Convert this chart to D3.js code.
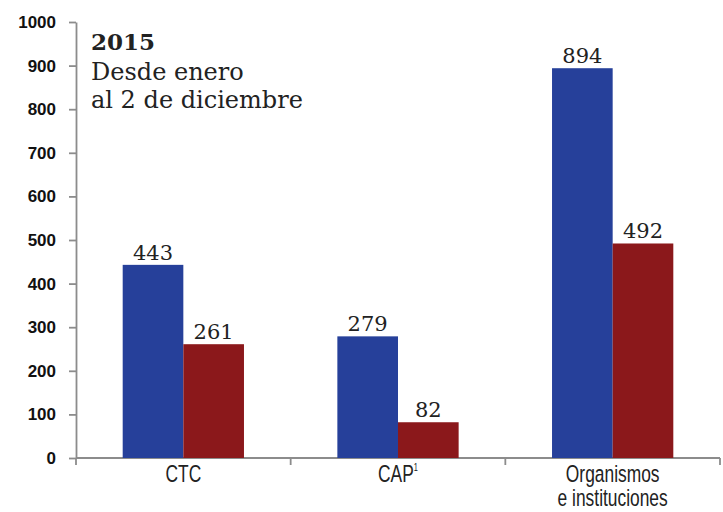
<!DOCTYPE html>
<html>
<head>
<meta charset="utf-8">
<title>2015</title>
<script src="https://cdn.jsdelivr.net/npm/d3@7"></script>
<style>
    body { margin: 0; background: #fff; }
    .axis path, .axis line { stroke: #8c8c8c; stroke-width: 1.8; }
    .y.axis text { font-family: "Liberation Sans", Arial, sans-serif; font-weight: bold; font-size: 17px; fill: #111; }
    .x.axis text { font-family: "Liberation Sans", Arial, sans-serif; font-size: 23.5px; fill: #222; }
    .value { font-family: "DejaVu Serif", "Liberation Serif", serif; font-size: 21px; fill: #222; }
    .title { font-family: "DejaVu Serif", "Liberation Serif", serif; fill: #222; }
</style>
</head>
<body>
<script>
var categories = ["CTC", "CAP", "Organismos"];
var catLines = [["CTC"], ["CAP"], ["Organismos", "e instituciones"]];
var series = ["a", "b"];
var valuesA = [443, 279, 894];
var valuesB = [261, 82, 492];
var yTicks = [0, 100, 200, 300, 400, 500, 600, 700, 800, 900, 1000];
var colors = ["#26409a", "#8b181b"];

var width = 723, height = 512,
    margins = {top: 22, left: 76, right: 3, bottom: 54};

var svg = d3.select("body").append("svg")
    .attr("width", width)
    .attr("height", height);

var x = d3.scaleBand()
    .domain(categories)
    .range([margins.left, width - margins.right])
    .padding(0);

var xInner = d3.scaleBand()
    .domain(series)
    .range([0, x.bandwidth()])
    .paddingInner(0)
    .paddingOuter(0.77);

var y = d3.scaleLinear()
    .domain([0, 1000])
    .range([height - margins.bottom, margins.top]);

// y axis
svg.append("g")
    .attr("class", "y axis")
    .attr("transform", "translate(" + margins.left + ",0)")
    .call(d3.axisLeft(y).tickValues(yTicks).tickFormat(d3.format("d"))
        .tickSize(7).tickSizeOuter(0).tickPadding(13));

// x axis with ticks at band boundaries
var xAxisG = svg.append("g")
    .attr("class", "x axis")
    .attr("transform", "translate(0," + y(0) + ")");
xAxisG.append("line")
    .attr("x1", margins.left).attr("x2", width - margins.right);
var bounds = categories.map(function (c) { return x(c); }).concat([x(categories[2]) + x.bandwidth()]);
xAxisG.selectAll("line.tick")
    .data(bounds)
    .enter().append("line")
    .attr("class", "tick")
    .attr("x1", function (d) { return d; })
    .attr("x2", function (d) { return d; })
    .attr("y1", 0).attr("y2", 7);

// condensed category labels
categories.forEach(function (c, i) {
    var cx = x(c) + x.bandwidth() / 2;
    catLines[i].forEach(function (line, j) {
        var t = xAxisG.append("text")
            .attr("text-anchor", "middle")
            .attr("transform", "translate(" + cx + "," + (24 + j * 24) + ") scale(0.74,1)")
            .text(line);
        if (c === "CAP") {
            t.append("tspan")
                .attr("font-size", "10px")
                .attr("dy", -11)
                .text("1");
        }
    });
});

// bars
var data = categories.map(function (c, i) {
    return {cat: c, vals: [{k: "a", v: valuesA[i]}, {k: "b", v: valuesB[i]}]};
});

var groups = svg.selectAll("g.group")
    .data(data)
    .enter().append("g")
    .attr("class", "group")
    .attr("transform", function (d) { return "translate(" + x(d.cat) + ",0)"; });

groups.selectAll("rect")
    .data(function (d) { return d.vals; })
    .enter().append("rect")
    .attr("x", function (d) { return xInner(d.k); })
    .attr("width", xInner.bandwidth())
    .attr("y", function (d) { return y(d.v); })
    .attr("height", function (d) { return y(0) - y(d.v); })
    .style("fill", function (d, i) { return colors[i]; });

groups.selectAll("text.value")
    .data(function (d) { return d.vals; })
    .enter().append("text")
    .attr("class", "value")
    .attr("text-anchor", "middle")
    .attr("x", function (d) { return xInner(d.k) + xInner.bandwidth() / 2; })
    .attr("y", function (d) { return y(d.v) - 5; })
    .text(function (d) { return d.v; });

// title block
svg.append("text").attr("class", "title")
    .attr("x", 91).attr("y", 50)
    .attr("font-size", "23px").attr("font-weight", "bold")
    .text("2015");
svg.append("text").attr("class", "title")
    .attr("x", 91).attr("y", 80)
    .attr("font-size", "24px")
    .text("Desde enero");
svg.append("text").attr("class", "title")
    .attr("x", 91).attr("y", 108)
    .attr("font-size", "24px")
    .text("al 2 de diciembre");
</script>
</body>
</html>
